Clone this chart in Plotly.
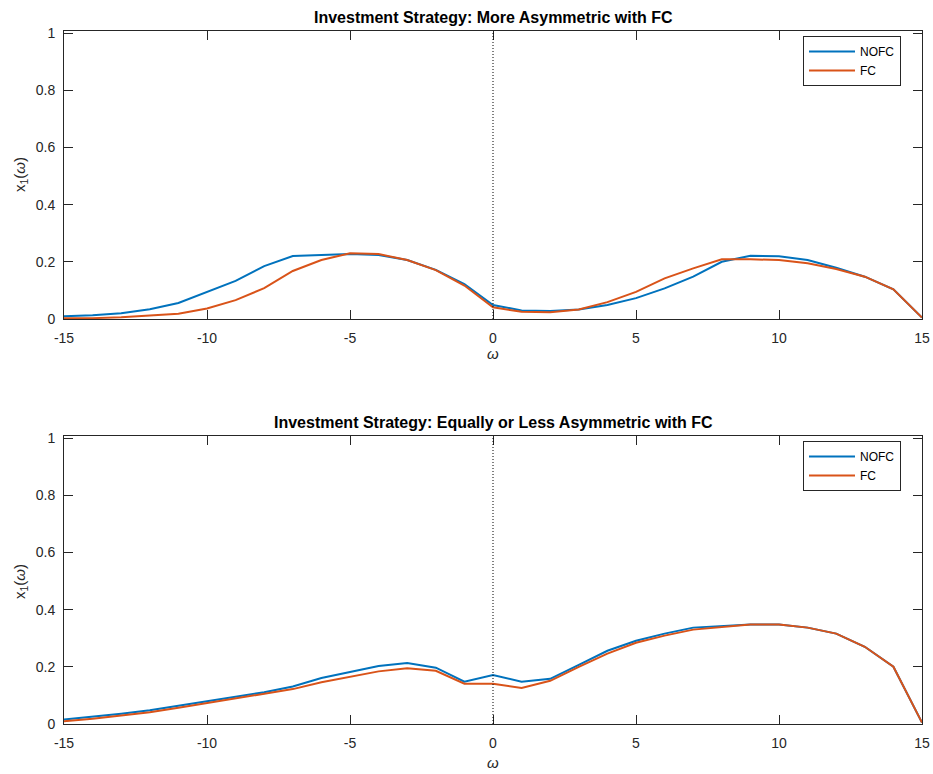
import plotly.graph_objects as go

omega = list(range(-15, 16))

top_nofc = [0.010, 0.013, 0.020, 0.034, 0.056, 0.094, 0.133, 0.185, 0.220, 0.224, 0.227,
            0.224, 0.206, 0.172, 0.122, 0.049, 0.030, 0.028, 0.033, 0.049, 0.073,
            0.107, 0.148, 0.200, 0.221, 0.219, 0.206, 0.179, 0.148, 0.104, 0.005]
top_fc = [0.003, 0.003, 0.006, 0.012, 0.018, 0.037, 0.066, 0.108, 0.168, 0.206, 0.230,
          0.227, 0.206, 0.171, 0.117, 0.041, 0.025, 0.024, 0.033, 0.059, 0.095,
          0.142, 0.177, 0.209, 0.209, 0.206, 0.195, 0.175, 0.148, 0.104, 0.005]

bot_nofc = [0.016, 0.025, 0.036, 0.048, 0.063, 0.080, 0.095, 0.111, 0.131, 0.161, 0.183,
            0.203, 0.213, 0.197, 0.148, 0.171, 0.148, 0.158, 0.207, 0.256, 0.291,
            0.316, 0.337, 0.343, 0.348, 0.348, 0.337, 0.316, 0.270, 0.200, 0.005]
bot_fc = [0.010, 0.018, 0.030, 0.041, 0.057, 0.073, 0.089, 0.104, 0.122, 0.146, 0.164,
          0.184, 0.195, 0.186, 0.141, 0.141, 0.126, 0.151, 0.200, 0.246, 0.284,
          0.309, 0.330, 0.340, 0.348, 0.348, 0.337, 0.316, 0.270, 0.200, 0.005]

xtick_vals = [-15, -10, -5, 0, 5, 10, 15]
xtick_text = ["-15", "-10", "-5", "0", "5", "10", "15"]
ytick_vals = [0, 0.2, 0.4, 0.6, 0.8, 1]
ytick_text = ["0", "0.2", "0.4", "0.6", "0.8", "1"]

titles = ["Investment Strategy: More Asymmetric with FC",
          "Investment Strategy: Equally or Less Asymmetric with FC"]
series_names = ["NOFC", "FC"]

BLUE = "#0072BD"
ORANGE = "#D95319"
AX = "#262626"
W, H = 933, 774
FONT = "Liberation Sans, Arial, sans-serif"

fig = go.Figure()

fig.add_trace(go.Scatter(x=omega, y=top_nofc, mode="lines", name=series_names[0],
                         line=dict(color=BLUE, width=2), xaxis="x", yaxis="y", legend="legend"))
fig.add_trace(go.Scatter(x=omega, y=top_fc, mode="lines", name=series_names[1],
                         line=dict(color=ORANGE, width=2), xaxis="x", yaxis="y", legend="legend"))
fig.add_trace(go.Scatter(x=omega, y=bot_nofc, mode="lines", name=series_names[0],
                         line=dict(color=BLUE, width=2), xaxis="x2", yaxis="y2", legend="legend2"))
fig.add_trace(go.Scatter(x=omega, y=bot_fc, mode="lines", name=series_names[1],
                         line=dict(color=ORANGE, width=2), xaxis="x2", yaxis="y2", legend="legend2"))

xdom = [64 / W, 922 / W]
ydom_top = [1 - 319 / H, 1 - 31 / H]
ydom_bot = [1 - 724 / H, 1 - 436 / H]

def xaxis(anchor):
    return dict(domain=xdom, anchor=anchor, range=[-15, 15], tickvals=xtick_vals, ticktext=xtick_text,
                ticks="inside", ticklen=9, tickcolor=AX, showline=True, linecolor=AX, linewidth=1,
                mirror="ticks", showgrid=False, zeroline=False, automargin=False,
                ticklabelstandoff=6,
                tickfont=dict(family=FONT, size=14, color=AX))

def yaxis(anchor, dom):
    return dict(domain=dom, anchor=anchor, range=[0, 1.007], tickvals=ytick_vals, ticktext=ytick_text,
                ticks="inside", ticklen=9, tickcolor=AX, showline=True, linecolor=AX, linewidth=1,
                mirror="ticks", showgrid=False, zeroline=False, automargin=False,
                ticklabelstandoff=5,
                tickfont=dict(family=FONT, size=14, color=AX))

legend_common = dict(bgcolor="white", bordercolor=AX, borderwidth=1,
                     font=dict(family=FONT, size=12, color="black"),
                     xanchor="right", yanchor="top", tracegroupgap=0, itemwidth=46)

fig.update_layout(
    width=W, height=H, margin=dict(l=0, r=0, t=0, b=0),
    paper_bgcolor="white", plot_bgcolor="white",
    xaxis=xaxis("y"), yaxis=yaxis("x", ydom_top),
    xaxis2=xaxis("y2"), yaxis2=yaxis("x2", ydom_bot),
    legend=dict(x=901 / W, y=1 - 36 / H, **legend_common),
    legend2=dict(x=901 / W, y=1 - 441 / H, **legend_common),
    showlegend=True,
)

for xr, yr in [("x", "y domain"), ("x2", "y2 domain")]:
    fig.add_shape(type="line", xref=xr, yref=yr, x0=0, x1=0, y0=0, y1=1,
                  line=dict(color="black", width=1, dash="1px,2px"))

cx = (xdom[0] + xdom[1]) / 2
for t, ypx in zip(titles, [17, 422]):
    fig.add_annotation(text="<b>" + t + "</b>", xref="paper", yref="paper", x=cx, y=1 - ypx / H,
                       showarrow=False, xanchor="center", yanchor="middle",
                       font=dict(family=FONT, size=16, color="black"))

for ypx in [353, 762]:
    fig.add_annotation(text="<i>ω</i>", xref="paper", yref="paper", x=cx, y=1 - ypx / H,
                       showarrow=False, xanchor="center", yanchor="middle",
                       font=dict(family=FONT, size=15, color=AX))

for ypx in [175, 582]:
    fig.add_annotation(text="x<sub>1</sub>(<i>ω</i>)", xref="paper", yref="paper", x=20 / W, y=1 - ypx / H,
                       showarrow=False, xanchor="center", yanchor="middle", textangle=-90,
                       font=dict(family=FONT, size=15, color=AX))

fig.write_html("out.html")
